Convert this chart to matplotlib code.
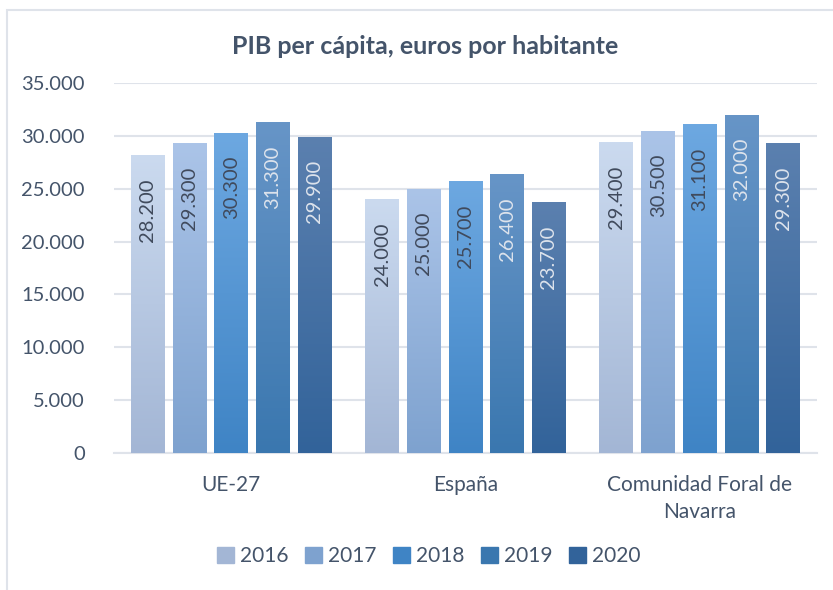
import numpy as np
import matplotlib.pyplot as plt
from matplotlib.colors import LinearSegmentedColormap
from matplotlib.patches import Rectangle
from matplotlib.ticker import FuncFormatter

# Data
regions = ['UE-27', 'España', 'Comunidad Foral de\nNavarra']
years = ['2016', '2017', '2018', '2019', '2020']
values = {
    '2016': [28200, 24000, 29400],
    '2017': [29300, 25000, 30500],
    '2018': [30300, 25700, 31100],
    '2019': [31300, 26400, 32000],
    '2020': [29900, 23700, 29300],
}
# gradient colours per year (top, bottom)
grad_colors = {
    '2016': ('#cbdaef', '#a3b6d5'),
    '2017': ('#abc4e8', '#7ea2cf'),
    '2018': ('#6da8e1', '#3f84c5'),
    '2019': ('#6795c7', '#3a77af'),
    '2020': ('#5b80af', '#32639a'),
}
label_colors = ['#404a5c', '#404a5c', '#404a5c', '#dde3ec', '#dde3ec']

plt.rcParams['font.family'] = ['Lato', 'DejaVu Sans']
text_color = '#44546a'

fig = plt.figure(figsize=(8.33, 5.9), dpi=100)
ax = fig.add_axes([0.1369, 0.2322, 0.8439, 0.6271])

# chart frame
fig.patches.append(Rectangle((0.008, -0.05), 1.2, 1.033, transform=fig.transFigure,
                             fill=False, edgecolor='#dfe3ea', linewidth=1.5))

x = np.arange(len(regions))
step = 0.178
width = 0.145

for i, yr in enumerate(years):
    pos = x + (i - 2) * step
    bars = ax.bar(pos, values[yr], width, color='none', zorder=3)
    cmap = LinearSegmentedColormap.from_list(yr, [grad_colors[yr][1], grad_colors[yr][0]])
    for b, v in zip(bars, values[yr]):
        grad = np.linspace(0, 1, 256).reshape(-1, 1)
        im = ax.imshow(grad, cmap=cmap, aspect='auto', origin='lower',
                       extent=[b.get_x(), b.get_x() + b.get_width(), 0, v], zorder=3)
        im.set_clip_path(b)
        ax.text(b.get_x() + b.get_width() / 2, v - 2200, f'{v:,}'.replace(',', '.'),
                rotation=90, ha='center', va='top', fontsize=14.5,
                color=label_colors[i], zorder=4)

ax.set_xlim(-0.5, 2.5)
ax.set_ylim(0, 35000)
ax.set_yticks(np.arange(0, 35001, 5000))
ax.yaxis.set_major_formatter(FuncFormatter(lambda v, p: f'{int(v):,}'.replace(',', '.')))
ax.set_xticks(x)
ax.set_xticklabels(regions, linespacing=1.4)
ax.tick_params(axis='both', length=0, labelsize=15, colors=text_color)
ax.tick_params(axis='y', labelsize=14.5, pad=21)
ax.tick_params(axis='x', pad=16)
ax.grid(axis='y', color='#dfe3ea', linewidth=1.5, zorder=0)
for s in ['top', 'right', 'left']:
    ax.spines[s].set_visible(False)
ax.spines['bottom'].set_color('#dfe3ea')
ax.spines['bottom'].set_linewidth(1.5)

fig.text(0.51, 0.921, 'PIB per cápita, euros por habitante', fontsize=18,
         fontweight='bold', color=text_color, ha='center', va='center')

# legend
handles = [Rectangle((0, 0), 1, 1, color=grad_colors[yr][1]) for yr in years]
fig.legend(handles, years, loc='center', bbox_to_anchor=(0.515, 0.057), ncol=5,
           frameon=False, fontsize=15, labelcolor=text_color,
           handlelength=0.8, handleheight=0.8, handletextpad=0.3, columnspacing=0.8)

fig.savefig('out.png', dpi=100)
